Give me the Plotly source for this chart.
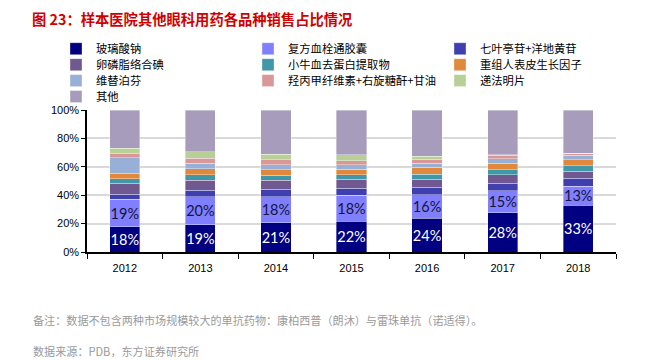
import plotly.graph_objects as go

years = ["2012", "2013", "2014", "2015", "2016", "2017", "2018"]

series_names = ["玻璃酸钠", "复方血栓通胶囊", "七叶亭苷+洋地黄苷",
                "卵磷脂络合碘", "小牛血去蛋白提取物", "重组人表皮生长因子",
                "维替泊芬", "羟丙甲纤维素+右旋糖酐+甘油", "递法明片", "其他"]

s_blsn = [17.8, 19.1, 20.6, 21.6, 23.8, 27.6, 33.0]
s_ffxst = [19.3, 19.8, 18.3, 18.4, 16.4, 15.4, 13.4]
s_qyt = [3.7, 4.7, 5.2, 5.0, 5.3, 5.4, 5.4]
s_lnz = [7.7, 7.0, 6.4, 6.3, 5.7, 6.1, 4.9]
s_xnx = [3.0, 3.7, 3.5, 3.0, 3.7, 3.3, 4.2]
s_czr = [4.0, 4.2, 3.8, 4.0, 4.7, 4.7, 4.2]
s_wtbf = [10.8, 4.0, 3.7, 3.3, 2.8, 3.3, 3.0]
s_qbj = [3.3, 3.5, 3.5, 2.8, 2.8, 2.3, 1.4]
s_dfm = [3.3, 4.7, 4.0, 4.2, 2.4, 0.3, 0.2]
s_other = [27.1, 29.3, 31.0, 31.4, 32.4, 31.6, 30.3]

all_series = [s_blsn, s_ffxst, s_qyt, s_lnz, s_xnx, s_czr, s_wtbf, s_qbj, s_dfm, s_other]
colors = ["#000080", "#7F7FFF", "#3F3FB0", "#705890", "#4097A8",
          "#E0883C", "#98B0D8", "#D89898", "#B8D098", "#A89CBC"]

y_ticks = [0, 20, 40, 60, 80, 100]
y_ticklabels = ["0%", "20%", "40%", "60%", "80%", "100%"]

# the page body adds an 8px margin; compensate so the figure lands at the reference pixels
OFF = 8
W, H = 645 - OFF, 360 - OFF
# plot area in reference pixels
PX_L, PX_R, PX_T, PX_B = 87, 616, 109.5, 252
L, T = PX_L - OFF, PX_T - OFF
R = W - (PX_R - OFF)
B = H - (PX_B - OFF)
PW, PH = PX_R - PX_L, PX_B - PX_T


def px_x(px):
    return (px - PX_L) / PW


def px_y(py):
    return (PX_B - py) / PH


legend_ids = ["legend", "legend2", "legend3", "legend4"]
row_y = [48, 64, 80, 96]

fig = go.Figure()
for i, (name, vals, col) in enumerate(zip(series_names, all_series, colors)):
    kw = {}
    if i == 0:
        kw = dict(texttemplate="%{y:.0f}%", textposition="inside", insidetextanchor="middle",
                  textangle=0, constraintext="none",
                  textfont=dict(family="Lato, Open Sans", size=14.5, color="white"))
    elif i == 1:
        kw = dict(texttemplate="%{y:.0f}%", textposition="inside", insidetextanchor="middle",
                  textangle=0, constraintext="none",
                  textfont=dict(family="Lato, Open Sans", size=14.5, color="#151540"))
    fig.add_trace(go.Bar(
        x=years, y=vals, name=name, legend=legend_ids[i // 3],
        marker=dict(color=col, line=dict(color="rgba(255,255,255,0.6)", width=0.6)),
        hoverinfo="skip", **kw))

legend_common = dict(
    orientation="h", xanchor="left", yanchor="middle",
    traceorder="normal", entrywidth=147, entrywidthmode="pixels",
    itemwidth=30, itemclick=False, itemdoubleclick=False,
    font=dict(family="Noto Sans CJK SC", size=11.3, color="black"),
    bgcolor="rgba(0,0,0,0)", tracegroupgap=0,
)

layout_legends = {}
for k, lid in enumerate(legend_ids):
    layout_legends[lid] = dict(legend_common, x=px_x(56), y=px_y(row_y[k]))

fig.update_layout(
    barmode="stack",
    bargap=0.6,
    width=W, height=H,
    margin=dict(l=L, r=R, t=T, b=B, pad=0, autoexpand=False),
    paper_bgcolor="white", plot_bgcolor="white",
    font=dict(family="Liberation Sans, Arial", size=11, color="black"),
    uniformtext=dict(minsize=8, mode="show"),
    showlegend=True,
    xaxis=dict(
        type="category", showline=True, linecolor="black", linewidth=1.5,
        ticks="outside", tickson="boundaries", ticklen=5, tickcolor="black",
        ticklabelstandoff=5,
        tickfont=dict(family="Liberation Sans, Arial", size=11, color="black"),
        showgrid=False, fixedrange=True,
    ),
    yaxis=dict(
        range=[0, 100], tickvals=y_ticks, ticktext=y_ticklabels,
        showline=True, linecolor="black", linewidth=1.5,
        ticks="outside", ticklen=4, tickcolor="black",
        showgrid=True, gridcolor="#D9D9D9", gridwidth=1.5,
        tickfont=dict(family="Liberation Sans, Arial", size=11, color="black"),
        zeroline=False, fixedrange=True,
    ),
    **layout_legends,
)

# top red rule
fig.add_shape(type="line", xref="paper", yref="paper",
              x0=px_x(17), x1=px_x(645), y0=px_y(3), y1=px_y(3),
              line=dict(color="#E07070", width=1.5))

fig.add_annotation(text="<b>图 23：样本医院其他眼科用药各品种销售占比情况</b>",
                   xref="paper", yref="paper", x=px_x(30), y=px_y(18),
                   xanchor="left", yanchor="middle", showarrow=False,
                   font=dict(family="Noto Sans CJK SC", size=14.3, color="#D00000"))

fig.add_annotation(text="备注：数据不包含两种市场规模较大的单抗药物：康柏西普（朗沐）与雷珠单抗（诺适得）。",
                   xref="paper", yref="paper", x=px_x(31), y=px_y(320),
                   xanchor="left", yanchor="middle", showarrow=False,
                   font=dict(family="Noto Sans CJK SC", size=11.1, color="#9A9A9A"))

fig.add_annotation(text="数据来源：PDB，东方证券研究所",
                   xref="paper", yref="paper", x=px_x(31), y=px_y(351),
                   xanchor="left", yanchor="middle", showarrow=False,
                   font=dict(family="Noto Sans CJK SC", size=11.1, color="#9A9A9A"))

fig.write_html("out.html")
